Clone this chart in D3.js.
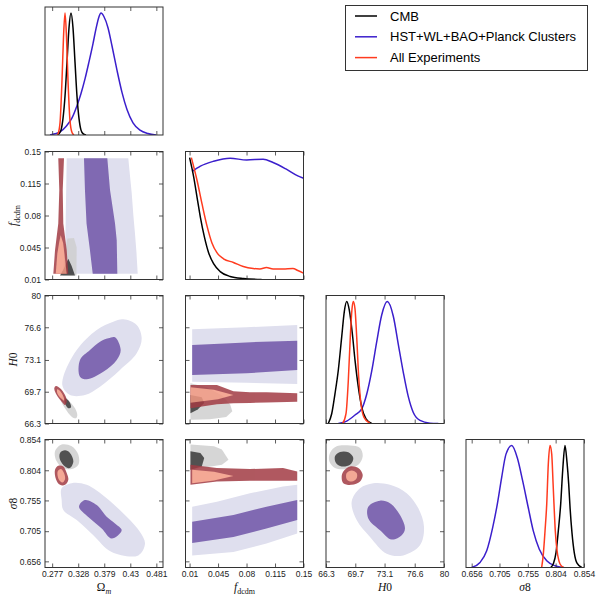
<!DOCTYPE html>
<html><head><meta charset="utf-8">
<script src="https://cdn.jsdelivr.net/npm/d3@7"></script>
<style>body{margin:0;background:#fff}</style>
</head><body><svg id="c" width="600" height="600"></svg>
<script>
// ---------- tick labels ----------
const omTicks = [0.277, 0.328, 0.379, 0.43, 0.481];
const fTicks  = [0.01, 0.045, 0.08, 0.115, 0.15];
const hTicks  = [66.3, 69.7, 73.1, 76.6, 80];
const sTicks  = [0.656, 0.705, 0.755, 0.804, 0.854];
const seriesNames = ["CMB", "HST+WL+BAO+Planck Clusters", "All Experiments"];

// ---------- 1D marginal posteriors [value, relative probability] ----------
const om1dCMB = [[0.2865,0.002],[0.2904,0.011],[0.2943,0.04],[0.2982,0.135],[0.3022,0.32],[0.3061,0.6],[0.3100,0.88],[0.3139,1.0],[0.3178,0.88],[0.3217,0.6],[0.3256,0.32],[0.3296,0.135],[0.3335,0.04],[0.3374,0.011],[0.3433,0]];
const om1dHST = [[0.2728,0],[0.2826,0.01],[0.2924,0.025],[0.3041,0.07],[0.3159,0.14],[0.3256,0.24],[0.3335,0.34],[0.3413,0.46],[0.3491,0.6],[0.357,0.75],[0.3628,0.87],[0.3687,0.97],[0.3726,1.0],[0.3785,0.97],[0.3863,0.88],[0.3942,0.73],[0.404,0.53],[0.4137,0.35],[0.4235,0.21],[0.4353,0.1],[0.449,0.04],[0.4646,0.012],[0.4803,0]];
const om1dAll = [[0.2865,0],[0.2885,0.01],[0.2924,0.1],[0.2963,0.45],[0.2992,0.8],[0.3022,1.0],[0.3051,0.8],[0.3080,0.45],[0.3119,0.12],[0.3159,0.02],[0.3198,0]];

const f1dCMB = [[0.01,1.0],[0.0151,0.84],[0.0193,0.67],[0.0233,0.51],[0.0282,0.35],[0.0334,0.22],[0.0395,0.13],[0.0476,0.065],[0.0598,0.025],[0.076,0.008],[0.0985,0]];
const f1dHST = [[0.0132,0.886],[0.0233,0.93],[0.0395,0.97],[0.0598,0.995],[0.0802,0.98],[0.1004,0.987],[0.1126,0.96],[0.1289,0.905],[0.143,0.85],[0.15,0.83]];
const f1dAll = [[0.0122,1.0],[0.0193,0.81],[0.0253,0.62],[0.0314,0.44],[0.0375,0.3],[0.0436,0.22],[0.0517,0.17],[0.0639,0.14],[0.076,0.106],[0.0882,0.09],[0.0964,0.087],[0.1045,0.098],[0.1126,0.087],[0.1248,0.087],[0.137,0.09],[0.143,0.074],[0.15,0.052]];

const h1dCMB = [[66.567,0],[66.962,0.08],[67.345,0.245],[67.728,0.437],[68.123,0.71],[68.425,0.918],[68.703,1.0],[69.005,0.93],[69.354,0.74],[69.667,0.52],[70.05,0.3],[70.445,0.134],[70.944,0.038],[71.606,0]];
const h1dHST = [[67.728,0],[68.703,0.02],[69.667,0.07],[70.445,0.12],[71.025,0.24],[71.606,0.43],[72.186,0.67],[72.767,0.89],[73.417,1.0],[74.114,0.88],[74.694,0.65],[75.275,0.42],[75.855,0.22],[76.436,0.09],[77.214,0.025],[78.375,0.003],[79.339,0]];
const h1dAll = [[68.239,0],[68.622,0.08],[68.889,0.35],[69.121,0.71],[69.319,0.94],[69.47,1.0],[69.667,0.94],[69.864,0.71],[70.097,0.38],[70.364,0.16],[70.712,0.05],[71.409,0]];

const s1dCMB = [[0.7953,0],[0.7999,0.03],[0.8046,0.12],[0.8087,0.3],[0.8129,0.52],[0.8165,0.8],[0.8205,1.0],[0.8241,0.86],[0.8271,0.68],[0.8293,0.5],[0.8329,0.28],[0.8369,0.12],[0.8417,0.035],[0.85,0]];
const s1dHST = [[0.656,0],[0.6707,0.041],[0.6825,0.137],[0.6931,0.329],[0.7012,0.52],[0.7089,0.74],[0.7165,0.93],[0.7266,1.0],[0.7364,0.9],[0.7459,0.71],[0.7558,0.49],[0.7646,0.3],[0.7752,0.15],[0.7883,0.055],[0.8029,0.014],[0.8175,0]];
const s1dAll = [[0.7794,0],[0.7823,0.11],[0.7853,0.3],[0.7883,0.52],[0.7911,0.85],[0.7941,1.0],[0.7971,0.93],[0.7994,0.7],[0.8011,0.52],[0.8034,0.3],[0.8059,0.16],[0.81,0.05],[0.8147,0.01],[0.8187,0]];

// ---------- 2D credible regions (68% / 95%) [x, y] ----------
// f_dcdm vs Omega_m
const fOmHST95 = [[0.3055,0.1427],[0.4261,0.1427],[0.4300,0.12],[0.4327,0.105],[0.4360,0.08],[0.4392,0.06],[0.4420,0.04],[0.4445,0.0163],[0.3040,0.0163],[0.3030,0.06],[0.3045,0.11]];
const fOmHST68 = [[0.3393,0.1427],[0.3850,0.1427],[0.3903,0.1079],[0.4001,0.0713],[0.4034,0.0529],[0.4046,0.0163],[0.3564,0.0163],[0.3510,0.0419],[0.3443,0.0713],[0.3412,0.1079]];
const fOmAll95 = [[0.289,0.1427],[0.3002,0.1427],[0.2977,0.1079],[0.2988,0.0713],[0.3055,0.0419],[0.3086,0.0163],[0.2793,0.0163],[0.2826,0.0419],[0.289,0.0713],[0.291,0.1079]];
const fOmAll68 = [[0.2937,0.0584],[0.2985,0.05],[0.3002,0.0419],[0.3055,0.0163],[0.2840,0.0163],[0.2871,0.0383],[0.2905,0.05]];
const fOmCMB95 = [[0.3067,0.0548],[0.3197,0.0555],[0.3250,0.045],[0.3245,0.0144],[0.298,0.0144],[0.300,0.03],[0.3035,0.045]];
const fOmCMB68 = [[0.3086,0.0328],[0.3150,0.025],[0.3217,0.0144],[0.2924,0.0144],[0.300,0.022]];
// H0 vs Omega_m
const hOmHST95 = [[0.2988,71.31],[0.3251,74.17],[0.3642,76.31],[0.3967,77.20],[0.4163,77.45],[0.4425,76.84],[0.4523,75.42],[0.4425,73.81],[0.4098,72.03],[0.3707,70.24],[0.3413,69.35],[0.3119,69.35],[0.2977,70.24]];
const hOmHST68 = [[0.3315,73.10],[0.3511,74.17],[0.3707,75.06],[0.3869,75.42],[0.4000,75.53],[0.4112,74.17],[0.4034,73.10],[0.3771,71.84],[0.3446,71.03],[0.3315,71.31]];
const hOmAll95 = [[0.2845,70.31],[0.2924,70.07],[0.3022,69.35],[0.3055,68.63],[0.3022,68.28],[0.2957,68.63],[0.2859,69.35],[0.2812,70.07]];
const hOmAll68 = [[0.2871,69.96],[0.2937,69.70],[0.3002,68.99],[0.3002,68.74],[0.2943,68.99],[0.2871,69.53]];
const hOmCMB95 = [[0.2988,69.35],[0.3086,68.82],[0.3217,67.93],[0.3262,67.21],[0.3237,66.86],[0.3153,67.03],[0.3022,67.93],[0.2943,68.82]];
const hOmCMB68 = [[0.3022,68.99],[0.3106,68.63],[0.3139,68.03],[0.3086,67.93],[0.3022,68.46]];
// H0 vs f_dcdm
const hFHST95 = [[0.0132,76.38],[0.08,76.6],[0.1423,76.84],[0.1423,70.53],[0.08,70.65],[0.0132,70.77]];
const hFHST68 = [[0.0132,74.70],[0.06,74.88],[0.1,75.06],[0.1423,75.16],[0.1423,72.03],[0.08,71.67],[0.0132,71.49]];
const hFAll95 = [[0.0111,70.42],[0.0436,70.42],[0.0639,69.75],[0.0842,69.65],[0.1045,69.65],[0.1423,69.53],[0.1423,68.64],[0.1045,68.55],[0.0842,68.5],[0.0639,68.46],[0.0436,68.35],[0.0111,67.93]];
const hFAll68 = [[0.0111,70.17],[0.04,69.9],[0.0639,69.35],[0.045,68.89],[0.0111,68.53]];
const hFCMB95 = [[0.0111,70.6],[0.03,70.2],[0.05,69.3],[0.06,68.3],[0.0625,67.6],[0.055,67.0],[0.035,66.75],[0.0111,66.7]];
const hFCMB68 = [[0.0111,69.35],[0.025,69.1],[0.028,68.5],[0.02,67.8],[0.0111,67.4]];
// sigma8 vs Omega_m
const sOmHST95 = [[0.2956,0.7749],[0.3152,0.7830],[0.3446,0.7803],[0.3837,0.7585],[0.4229,0.7284],[0.4490,0.7038],[0.4588,0.6848],[0.4457,0.6657],[0.3935,0.6711],[0.3576,0.6984],[0.3251,0.7230],[0.2989,0.7394],[0.2956,0.7557]];
const sOmHST68 = [[0.3296,0.7448],[0.3413,0.7557],[0.3642,0.7475],[0.3837,0.7284],[0.4000,0.7176],[0.4131,0.7066],[0.3935,0.6930],[0.3740,0.7093],[0.3511,0.7257]];
const sOmAll95 = [[0.2826,0.8049],[0.2891,0.8114],[0.2989,0.8103],[0.3055,0.7995],[0.3087,0.7885],[0.3022,0.7803],[0.2924,0.7803],[0.2845,0.7896]];
const sOmAll68 = [[0.2878,0.8021],[0.2943,0.8060],[0.3002,0.7995],[0.3022,0.7896],[0.2969,0.7841],[0.2904,0.7885]];
const sOmCMB95 = [[0.2826,0.8348],[0.2956,0.8458],[0.3152,0.8430],[0.3283,0.8294],[0.3283,0.8130],[0.3152,0.8060],[0.2989,0.8076],[0.2858,0.8185]];
const sOmCMB68 = [[0.2924,0.8322],[0.3022,0.8365],[0.3119,0.8322],[0.3185,0.8185],[0.3119,0.8076],[0.3022,0.8103],[0.2924,0.8212]];
// sigma8 vs f_dcdm
const sFHST95 = [[0.0132,0.7448],[0.0436,0.7530],[0.0842,0.7667],[0.1248,0.7776],[0.1423,0.7803],[0.1423,0.7012],[0.1045,0.6848],[0.0639,0.6711],[0.0132,0.6657]];
const sFHST68 = [[0.0132,0.7202],[0.0639,0.7312],[0.1045,0.7448],[0.1423,0.7557],[0.1423,0.7230],[0.1045,0.7094],[0.0639,0.6957],[0.0132,0.6858]];
const sFAll95 = [[0.0111,0.8130],[0.0436,0.8076],[0.0842,0.8060],[0.1248,0.8076],[0.1423,0.8021],[0.1423,0.7868],[0.0842,0.7868],[0.0436,0.7857],[0.0111,0.7803]];
const sFAll68 = [[0.0132,0.8049],[0.04,0.8015],[0.0639,0.7945],[0.04,0.7875],[0.0132,0.7830]];
const sFCMB95 = [[0.0111,0.8458],[0.04,0.8430],[0.0497,0.8376],[0.0578,0.8212],[0.0497,0.8130],[0.0111,0.8049]];
const sFCMB68 = [[0.0111,0.8348],[0.0233,0.8322],[0.028,0.8240],[0.025,0.8103],[0.0111,0.8049]];
// sigma8 vs H0
const sHHST95 = [[69.28,0.7530],[70.25,0.7749],[71.79,0.7830],[73.73,0.7803],[75.67,0.7667],[77.02,0.7421],[77.68,0.7120],[77.21,0.6820],[75.27,0.6657],[73.35,0.6684],[71.41,0.6957],[69.86,0.7230]];
const sHHST68 = [[71.21,0.7448],[72.57,0.7546],[73.73,0.7503],[74.89,0.7312],[75.47,0.7093],[75.09,0.6984],[73.92,0.6914],[72.57,0.7066],[71.21,0.7257]];
const sHAll95 = [[68.31,0.8021],[69.09,0.8103],[70.05,0.8076],[70.56,0.7967],[70.25,0.7857],[69.28,0.7803],[68.31,0.7830],[68.12,0.7940]];
const sHAll68 = [[68.70,0.7995],[69.28,0.8038],[69.86,0.7995],[69.86,0.7912],[69.28,0.7857],[68.70,0.7896]];
const sHCMB95 = [[66.76,0.8322],[67.54,0.8430],[69.09,0.8442],[70.25,0.8403],[70.56,0.8267],[70.05,0.8130],[68.70,0.8060],[67.34,0.8076],[66.69,0.8185]];
const sHCMB68 = [[67.34,0.8267],[67.93,0.8338],[68.89,0.8333],[69.47,0.8240],[69.09,0.8130],[68.12,0.8103],[67.46,0.8158]];

// ---------- layout & style ----------
const colLeft = [45, 185.5, 326, 466], rowTop = [7, 151.5, 295.5, 439.5], W = 118, H = 128;
const xDomains = [[0.263,0.494],[0.005,0.15],[66.3,80],[0.646,0.854]];
const yDomains = [null,[0.01,0.15],[66.3,80],[0.646,0.854]];
const tickSets = [omTicks, fTicks, hTicks, sTicks];
const lineColor = {CMB:"#000000", HST:"#3b1fcc", All:"#ff3b1f"};
const fill95 = {CMB:"#cfcfcf", HST:"#dfdfee", All:"#a23b44"};
const fill68 = {CMB:"#333333", HST:"#8069b2", All:"#f39983"};
const grpOpacity = {CMB:0.85, HST:1, All:0.85};

const svg = d3.select("#c");
const xs = xDomains.map((d,j)=>d3.scaleLinear().domain(d).range([colLeft[j], colLeft[j]+W]));
const ys = yDomains.map((d,i)=>d ? d3.scaleLinear().domain(d).range([rowTop[i]+H, rowTop[i]]) : null);
const yP = rowTop.map(t=>d3.scaleLinear().domain([0,1.05]).range([t+H, t]));

const defs = svg.append("defs");
function clip(i,j){
  const id = `cl${i}${j}`;
  defs.append("clipPath").attr("id",id).append("rect")
    .attr("x",colLeft[j]).attr("y",rowTop[i]).attr("width",W).attr("height",H);
  return `url(#${id})`;
}

const diag = [
  {i:0, data:{CMB:om1dCMB, HST:om1dHST, All:om1dAll}},
  {i:1, data:{CMB:f1dCMB, HST:f1dHST, All:f1dAll}},
  {i:2, data:{CMB:h1dCMB, HST:h1dHST, All:h1dAll}},
  {i:3, data:{CMB:s1dCMB, HST:s1dHST, All:s1dAll}}
];
const offd = [
  {i:1,j:0,smooth:false,c:{HST:[fOmHST95,fOmHST68],CMB:[fOmCMB95,fOmCMB68],All:[fOmAll95,fOmAll68]}},
  {i:2,j:0,smooth:true, c:{HST:[hOmHST95,hOmHST68],CMB:[hOmCMB95,hOmCMB68],All:[hOmAll95,hOmAll68]}},
  {i:2,j:1,smooth:false,c:{HST:[hFHST95,hFHST68],CMB:[hFCMB95,hFCMB68],All:[hFAll95,hFAll68]}},
  {i:3,j:0,smooth:true, c:{HST:[sOmHST95,sOmHST68],CMB:[sOmCMB95,sOmCMB68],All:[sOmAll95,sOmAll68]}},
  {i:3,j:1,smooth:false,c:{HST:[sFHST95,sFHST68],CMB:[sFCMB95,sFCMB68],All:[sFAll95,sFAll68]}},
  {i:3,j:2,smooth:true, c:{HST:[sHHST95,sHHST68],CMB:[sHCMB95,sHCMB68],All:[sHAll95,sHAll68]}}
];

// 2D panels
offd.forEach(p=>{
  const x = xs[p.j], y = ys[p.i];
  const gen = d3.line().x(d=>x(d[0])).y(d=>y(d[1]))
    .curve(p.smooth ? d3.curveCatmullRomClosed.alpha(0.5) : d3.curveLinearClosed);
  const g = svg.append("g").attr("clip-path", clip(p.i,p.j));
  ["HST","CMB","All"].forEach(s=>{
    const gs = g.append("g").attr("opacity", grpOpacity[s]);
    gs.append("path").attr("d", gen(p.c[s][0])).attr("fill", fill95[s]);
    gs.append("path").attr("d", gen(p.c[s][1])).attr("fill", fill68[s]);
  });
});

// 1D panels
diag.forEach(p=>{
  const x = xs[p.i], y = yP[p.i];
  const gen = d3.line().x(d=>x(d[0])).y(d=>y(d[1])).curve(d3.curveMonotoneX);
  const g = svg.append("g").attr("clip-path", clip(p.i,p.i));
  ["HST","CMB","All"].forEach(s=>{
    g.append("path").attr("d", gen(p.data[s])).attr("fill","none")
      .attr("stroke", lineColor[s]).attr("stroke-width",1.5);
  });
});

// axes
const fmt = d=>String(d), none = ()=>"";
function styleAxis(g){
  g.select(".domain").remove();
  g.attr("font-family","Liberation Sans, Arial, sans-serif").attr("font-size",8.5);
  g.selectAll(".tick line").attr("stroke","#333").attr("stroke-width",0.8);
  g.selectAll(".tick text").attr("fill","#222");
}
function axes(i,j,is1D){
  const x = xs[j], top = rowTop[i], left = colLeft[j];
  svg.append("g").attr("transform",`translate(0,${top+H})`)
    .call(d3.axisBottom(x).tickValues(tickSets[j]).tickSize(-4).tickPadding(3).tickFormat(i===3?fmt:none)).call(styleAxis);
  svg.append("g").attr("transform",`translate(0,${top})`)
    .call(d3.axisTop(x).tickValues(tickSets[j]).tickSize(-4).tickFormat(none)).call(styleAxis);
  if(!is1D){
    const y = ys[i];
    svg.append("g").attr("transform",`translate(${left},0)`)
      .call(d3.axisLeft(y).tickValues(tickSets[i]).tickSize(-4).tickPadding(4).tickFormat(j===0?fmt:none)).call(styleAxis);
    svg.append("g").attr("transform",`translate(${left+W},0)`)
      .call(d3.axisRight(y).tickValues(tickSets[i]).tickSize(-4).tickFormat(none)).call(styleAxis);
  }
  svg.append("rect").attr("x",left).attr("y",top).attr("width",W).attr("height",H)
    .attr("fill","none").attr("stroke","#333").attr("stroke-width",1);
}
for(let i=0;i<4;i++) for(let j=0;j<=i;j++) axes(i,j,i===j);

// axis titles
const serif = "Liberation Serif, Times New Roman, serif";
const titles = [
  [{t:"Ω",it:false},{t:"m",it:true,sub:true}],
  [{t:"f",it:true},{t:"dcdm",it:false,sub:true}],
  [{t:"H",it:true},{t:"0",it:false}],
  [{t:"σ",it:true},{t:"8",it:false}]
];
function addTitle(parts, x, y, rot){
  const t = svg.append("text").attr("font-family",serif).attr("font-size",11.5)
    .attr("text-anchor","middle").attr("fill","#111")
    .attr("transform",`translate(${x},${y})${rot?" rotate(-90)":""}`);
  parts.forEach(p=>{
    t.append("tspan").text(p.t).attr("font-style",p.it?"italic":"normal")
      .attr("font-size",p.sub?8:11.5).attr("dy",p.sub?2.5:0);
  });
}
for(let j=0;j<4;j++) addTitle(titles[j], colLeft[j]+W/2, 591, false);
for(let i=1;i<4;i++) addTitle(titles[i], 17, rowTop[i]+H/2, true);

// legend
const lg = svg.append("g");
lg.append("rect").attr("x",345.5).attr("y",5.5).attr("width",242).attr("height",65)
  .attr("fill","#fff").attr("stroke","#333").attr("stroke-width",1);
const keys = ["CMB","HST","All"];
seriesNames.forEach((n,k)=>{
  const yy = 16 + k*20.8;
  lg.append("line").attr("x1",355).attr("x2",377).attr("y1",yy).attr("y2",yy)
    .attr("stroke",lineColor[keys[k]]).attr("stroke-width",1.5);
  lg.append("text").attr("x",390).attr("y",yy).attr("dy","0.35em")
    .attr("font-family","Liberation Sans, Arial, sans-serif").attr("font-size",13)
    .attr("fill","#000").text(n);
});
</script>
</body></html>
